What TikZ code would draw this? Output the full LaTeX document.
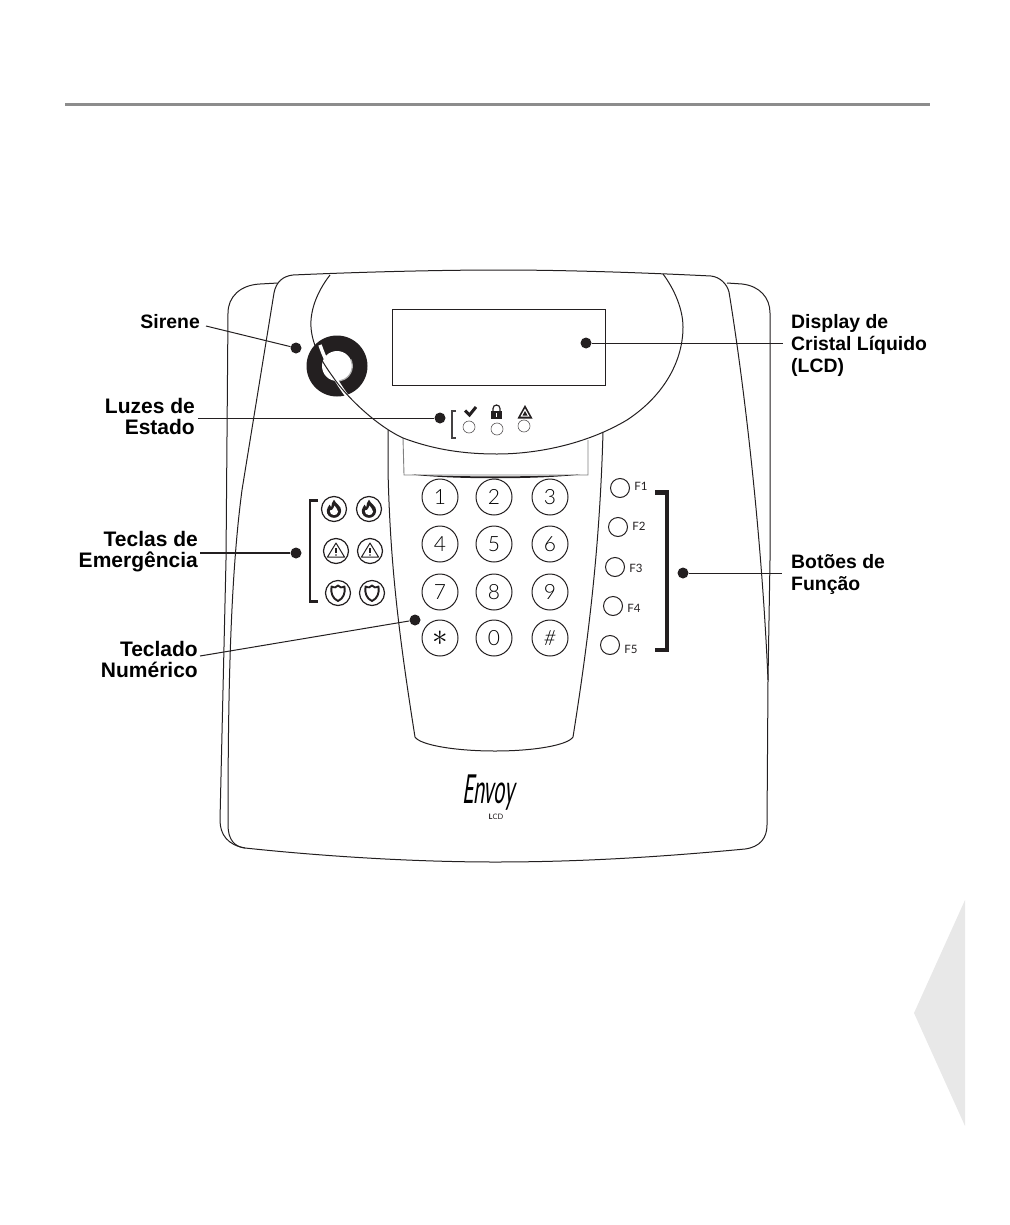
\documentclass[tikz,border=0pt]{standalone}
\usepackage{fontspec}
\setmainfont{Lato}
\newfontfamily\labelfont{Liberation Sans}
\newfontfamily\keyfont{Lato Light}
\usepackage{tikz}
\usetikzlibrary{positioning}
\definecolor{inkdark}{HTML}{231F20}
\definecolor{rulegray}{HTML}{8C8C8C}
\definecolor{tabgray}{HTML}{E8E8E8}
\tikzset{
	outline/.style={draw=inkdark, line width=1pt},
	calloutdot/.style={circle, fill=inkdark, minimum size=11pt, inner sep=0pt},
	callout/.style={draw=inkdark, line width=1pt},
	calloutlabel/.style={font=\labelfont\bfseries\fontsize{19.4}{22}\selectfont, text=black, inner sep=0pt, align=right, anchor=east},
	calloutwide/.style={calloutlabel, font=\labelfont\bfseries\fontsize{21}{21}\selectfont},
	calloutlabelr/.style={calloutlabel, align=left, anchor=west},
	keybtn/.style={circle, draw=inkdark, line width=1pt, minimum size=36pt, inner sep=0pt, font=\keyfont\fontsize{21}{21}\selectfont, text=black},
	emergbtn/.style={circle, draw=inkdark, line width=1.2pt, minimum size=25pt, inner sep=0pt},
	fnbtn/.style={circle, draw=inkdark, line width=1pt, minimum size=19pt, inner sep=0pt},
	fnlabel/.style={font=\fontsize{11.5}{11.5}\selectfont, text=inkdark, inner sep=0pt},
	ledbtn/.style={circle, draw=inkdark!75, line width=.6pt, minimum size=12pt, inner sep=0pt},
	pics/fireicon/.style={code={
		\fill [inkdark, scale=1.1] (0,-8.5) .. controls (1,-5) and (7,-3) .. (6.5,2) .. controls (6,6.5) and (2.5,8) .. (0,8) .. controls (-4,8) and (-7,5) .. (-6.5,1) .. controls (-6.3,-1) and (-5,-2) .. (-4,-4) .. controls (-3.5,-2.5) and (-3,-2) .. (-2.5,-1.5) .. controls (-2.5,-4) and (-1.5,-7) .. (0,-8.5) -- cycle;
		\fill [white, scale=1.1] (.5,-3) .. controls (1,-1) and (4,0) .. (3.7,2.5) .. controls (3.4,4.8) and (1.5,5.5) .. (0,5.5) .. controls (-2,5.5) and (-4,4) .. (-3.7,2) .. controls (-3.6,1) and (-2.8,.5) .. (-2,1) .. controls (-1,.5) and (-.3,-1.5) .. (.5,-3) -- cycle;
	}},
	pics/warnicon/.style={code={
		\draw [inkdark, line width=1pt, line join=round] (0,-8) -- (8.5,6) -- (-8.5,6) -- cycle;
		\draw [inkdark, line width=1.5pt] (0,-3) -- (0,2);
		\fill [inkdark] (0,4) circle (.9);
	}},
	pics/shieldicon/.style={code={
		\draw [inkdark, line width=1.9pt, line join=round] (-6.5,-6.5) .. controls (-3,-5) and (-2,-5.5) .. (0,-7.5) .. controls (2,-5.5) and (3,-5) .. (6.5,-6.5) .. controls (7.5,0) and (5.5,5.5) .. (0,8) .. controls (-5.5,5.5) and (-7.5,0) .. (-6.5,-6.5) -- cycle;
	}},
}
\begin{document}
\begin{tikzpicture}[x=1pt, y=-1pt]
	\useasboundingbox (0,0) rectangle (1009,1225);

	% page furniture
	\draw [rulegray, line width=3pt] (65,105) -- (930,105);
	\fill [tabgray] (965,900) -- (914,1013) -- (965,1126) -- cycle;

	% case, back shell
	\draw [outline] (278,283) -- (260,284) .. controls (240,285) and (228,297) .. (228,313) -- (226,560) -- (220,820) .. controls (220,835) and (228,845) .. (245,848);
	\draw [outline] (727,283) -- (742,284) .. controls (760,286) and (770,298) .. (770,313) -- (770,560) -- (768,680);
	% case, front shell
	\draw [outline] (245,848) .. controls (330,857) and (420,862) .. (495,862) .. controls (580,862) and (660,857) .. (745,849) .. controls (760,847) and (767,838) .. (767,825) -- (768,680);
	\draw [outline] (245,848) .. controls (235,847) and (228,840) .. (228,825) .. controls (228,700) and (230,580) .. (242,490) -- (274,293) .. controls (276,282) and (283,276) .. (293,275) .. controls (360,272) and (440,270) .. (500,270) .. controls (570,270) and (650,273) .. (711,276) .. controls (720,277) and (727,284) .. (729,292) .. controls (745,390) and (762,540) .. (768,680);

	% siren
	\fill [inkdark] (337,366) circle (30.5);
	\fill [white] (337,366) circle (15);
	\draw [gray!60, line width=1.2pt] (350.5,359) arc (-28:100:15);
	\draw [white, line width=3.5pt] (320,345) .. controls (326,362) and (335,380) .. (347,396);

	% keypad body
	\draw [outline] (388,430) -- (388,470) .. controls (390,560) and (398,630) .. (415,737) .. controls (420,745) and (455,751) .. (495,751) .. controls (535,751) and (568,745) .. (573,737) .. controls (590,630) and (600,540) .. (603,432);
	\draw [gray, line width=.9pt] (403,438) -- (404,475) -- (588,475) -- (588,440);
	\fill [inkdark] (412,474.5) .. controls (450,477) and (540,477) .. (580,474.5) .. controls (540,479.5) and (450,479.5) .. (412,474.5) -- cycle;

	% display hood
	\draw [outline] (330,275) .. controls (316,293) and (310,312) .. (311,327) .. controls (312,345) and (322,362) .. (333,377) .. controls (345,395) and (375,425) .. (403,438) .. controls (435,450) and (465,454) .. (497,454) .. controls (535,454) and (585,445) .. (627,420) .. controls (665,395) and (683,360) .. (683,327) .. controls (683,310) and (675,290) .. (663,274);
	\node [draw=inkdark, line width=1pt, minimum width=213pt, minimum height=76pt, inner sep=0pt] (lcdPanel) at (498.5,347) {};

	% status lights
	\draw [inkdark!85, line width=2pt] (456,411) -- (451.5,411) -- (451.5,437.5) -- (456,437.5);
	\draw [inkdark, line width=3pt] (465,410.5) -- (469.5,415) -- (476,407);
	\fill [inkdark] (491,410.5) rectangle (502,418.5);
	\draw [inkdark, line width=1.2pt] (493,411) -- (493,408.5) arc (180:360:3.5) -- (500,411);
	\fill [white] (495.7,413) rectangle (497.3,416.5);
	\fill [inkdark] (525,405) -- (532.5,418.5) -- (517.5,418.5) -- cycle;
	\fill [white] (525,408.5) -- (529.5,416.5) -- (520.5,416.5) -- cycle;
	\fill [inkdark] (525,411) -- (527.5,415.5) -- (522.5,415.5) -- cycle;
	\node [ledbtn] (ledReady) at (469,427) {};
	\node [ledbtn] (ledArmed) at (497,429) {};
	\node [ledbtn] (ledTrouble) at (524,426) {};

	% emergency keys
	\draw [inkdark, line width=2.6pt] (318,500.5) -- (310,500.5) -- (310,601.5) -- (318,601.5);
	\node [emergbtn] (fireA) at (334,509) {};
	\node [emergbtn] (fireB) at (369,509) {};
	\node [emergbtn] (auxA) at (336,551) {};
	\node [emergbtn] (auxB) at (370,551) {};
	\node [emergbtn] (policeA) at (338,593) {};
	\node [emergbtn] (policeB) at (372,593) {};
	\pic at (fireA) {fireicon};
	\pic at (fireB) {fireicon};
	\pic at (auxA) {warnicon};
	\pic at (auxB) {warnicon};
	\pic at (policeA) {shieldicon};
	\pic at (policeB) {shieldicon};

	% numeric keys
	\node [keybtn] (key1) at (440,497) {1};
	\node [keybtn] (key2) at (494,497) {2};
	\node [keybtn] (key3) at (550,497) {3};
	\node [keybtn] (key4) at (440,544) {4};
	\node [keybtn] (key5) at (494,544) {5};
	\node [keybtn] (key6) at (550,544) {6};
	\node [keybtn] (key7) at (440,592) {7};
	\node [keybtn] (key8) at (494,592) {8};
	\node [keybtn] (key9) at (550,592) {9};
	\node [keybtn] (keyStar) at (440,638) {\scalebox{1.5}{$\ast$}};
	\node [keybtn] (key0) at (494,638) {0};
	\node [keybtn] (keyHash) at (550,638) {\itshape\#};

	% function keys
	\node [fnbtn] (fnA) at (620,488) {};
	\node [fnbtn] (fnB) at (618,527) {};
	\node [fnbtn] (fnC) at (615,567) {};
	\node [fnbtn] (fnD) at (613,606) {};
	\node [fnbtn] (fnE) at (610,645) {};
	\node [fnlabel] (fnAlabel) at (641,486) {F1};
	\node [fnlabel] (fnBlabel) at (639,526) {F2};
	\node [fnlabel] (fnClabel) at (636,568) {F3};
	\node [fnlabel] (fnDlabel) at (634,608) {F4};
	\node [fnlabel] (fnElabel) at (631,649) {F5};
	\draw [inkdark, line width=4.5pt] (655,492.5) -- (667,492.5) -- (667,650) -- (655,650);

	% logo
	\node [inner sep=0pt, font=\fontsize{25}{25}\selectfont, text=black, xscale=.78, yscale=1.6, xslant=.3] (logoName) at (490,793) {Envoy};
	\node [inner sep=0pt, font=\fontsize{7.5}{7.5}\selectfont, text=inkdark] (logoSub) at (496,817) {\textbf{L}CD};

	% callouts
	\node [calloutlabel] (sirenLabel) at (200,322) {Sirene};
	\node [calloutwide] (statusLabel) at (195,416) {Luzes de\\Estado};
	\node [calloutwide] (emergLabel) at (198,552) {Teclas de\\Emergência};
	\node [calloutwide] (keypadLabel) at (198,659) {Teclado\\Numérico};
	\node [calloutlabelr] (lcdLabel) at (791,345) {Display de\\Cristal Líquido\\(LCD)};
	\node [calloutlabelr] (fnLabel) at (791,574) {Botões de\\Função};

	\node [calloutdot] (sirenDot) at (296,348) {};
	\node [calloutdot] (statusDot) at (440,418) {};
	\node [calloutdot] (emergDot) at (296,553) {};
	\node [calloutdot] (keypadDot) at (415,620) {};
	\node [calloutdot] (lcdDot) at (586,343) {};
	\node [calloutdot] (fnDot) at (683,573) {};

	\coordinate (sirenEnd) at (206,326);
	\coordinate (statusEnd) at (198,418);
	\coordinate (emergEnd) at (200,553);
	\coordinate (keypadEnd) at (200,656);
	\coordinate (lcdEnd) at (783,343);
	\coordinate (fnEnd) at (782,573);

	\draw [callout] (sirenDot) to (sirenEnd);
	\draw [callout] (statusDot) to (statusEnd);
	\draw [callout, line width=1.5pt] (emergDot) to (emergEnd);
	\draw [callout] (keypadDot) to (keypadEnd);
	\draw [callout] (lcdDot) to (lcdEnd);
	\draw [callout] (fnDot) to (fnEnd);
\end{tikzpicture}
\end{document}
